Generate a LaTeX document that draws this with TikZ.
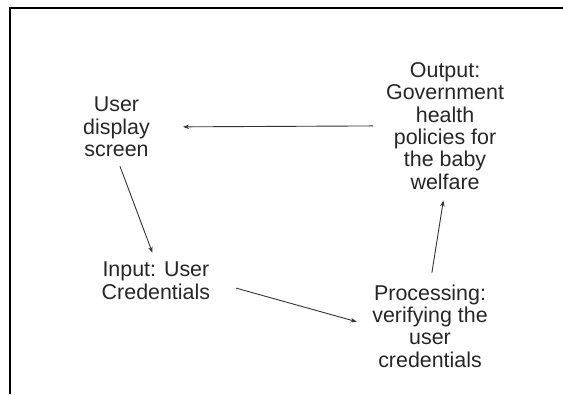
\documentclass[tikz,border=0pt]{standalone}
\usepackage{fontspec}
\setmainfont{Liberation Sans}
\usetikzlibrary{arrows.meta}

\begin{document}
\begin{tikzpicture}[cap=round]
% Styles
\tikzstyle{box text}=[align=center, inner sep=0pt, text=black!85, font=\fontsize{21.5}{22.5}\selectfont]
\tikzstyle{flow arrow}=[draw=black!80, line width=0.9bp, -{Stealth[length=6bp,width=4.5bp]}]

\useasboundingbox (0,0) rectangle (19.86,13.90);

% frame
\draw[line width=2bp, cap=butt] (19.86,13.62) -- (0.35,13.62) -- (0.35,0);

% draw the nodes
\node[box text] (screen) at (4.11,9.42) {User\\display\\screen};
\node[box text] (input) at (5.50,3.99) {Input: User\\Credentials};
\node[box text] (process) at (15.17,2.40) {Processing:\\verifying the\\user\\credentials};
\node[box text] (output) at (15.70,9.46) {Output:\\Government\\health\\policies for\\the baby\\welfare};

% draw the arrows
\draw[flow arrow, shorten <=10bp, shorten >=10bp] (screen.south) -- (input.north);
\draw[flow arrow, shorten <=27bp, shorten >=16bp] (input.east) -- (process.west);
\draw[flow arrow, shorten <=12bp, shorten >=11bp] (process.north) -- (output.south);
\draw[flow arrow, shorten <=13bp, shorten >=33bp] (output.west) -- (screen.east);

\end{tikzpicture}
\end{document}
